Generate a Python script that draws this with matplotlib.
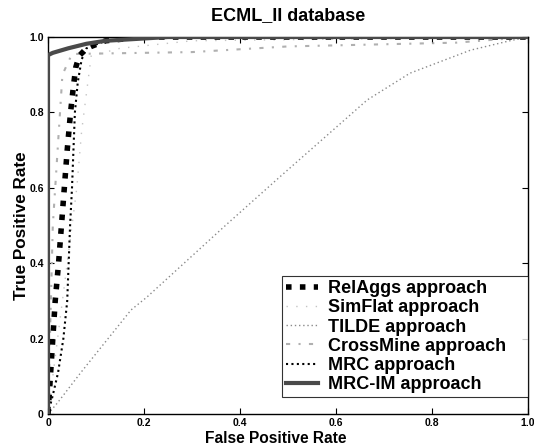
import numpy as np
import matplotlib
matplotlib.use("Agg")
import matplotlib.pyplot as plt

plt.rcParams["font.family"] = ["Liberation Sans", "DejaVu Sans"]
plt.rcParams["font.weight"] = "bold"

# ROC points (false positive rate, true positive rate) per approach
relaggs_fpr = [0.0, 0.005, 0.010, 0.015, 0.022, 0.028, 0.034, 0.040, 0.047, 0.053, 0.058, 0.065, 0.080, 0.120, 0.200, 1.0]
relaggs_tpr = [0.0, 0.10, 0.20, 0.30, 0.40, 0.50, 0.60, 0.70, 0.80, 0.87, 0.92, 0.95, 0.97, 0.99, 1.0, 1.0]

simflat_fpr = [0.0, 0.030, 0.050, 0.060, 0.070, 0.080, 0.085, 0.090, 0.150, 0.300, 1.0]
simflat_tpr = [0.0, 0.30, 0.50, 0.60, 0.75, 0.85, 0.90, 0.95, 0.97, 0.99, 1.0]

tilde_fpr = [0.0, 0.020, 0.069, 0.173, 0.206, 0.373, 0.483, 0.665, 0.754, 0.880, 0.962, 1.0]
tilde_tpr = [0.0, 0.030, 0.111, 0.276, 0.310, 0.504, 0.629, 0.833, 0.904, 0.965, 0.990, 1.0]

crossmine_fpr = [0.0, 0.010, 0.030, 0.050, 0.300, 0.500, 0.850, 1.0]
crossmine_tpr = [0.0, 0.50, 0.90, 0.955, 0.960, 0.975, 0.985, 1.0]

mrc_fpr = [0.0, 0.010, 0.021, 0.032, 0.040, 0.043, 0.046, 0.050, 0.053, 0.056, 0.062, 0.070, 0.080, 0.120, 0.250, 1.0]
mrc_tpr = [0.0, 0.05, 0.11, 0.20, 0.30, 0.40, 0.50, 0.60, 0.70, 0.80, 0.88, 0.94, 0.97, 0.99, 1.0, 1.0]

mrcim_fpr = [0.0, 0.0, 0.010, 0.042, 0.080, 0.120, 0.250, 1.0]
mrcim_tpr = [0.0, 0.952, 0.958, 0.970, 0.982, 0.990, 1.0, 1.0]

fig = plt.figure(figsize=(5.34, 4.48), dpi=100)
ax = fig.add_axes([0.0899, 0.0759, 0.8989, 0.8415])

ax.plot(relaggs_fpr, relaggs_tpr, color="black", lw=4.0, linestyle=(0, (1, 1.5)),
        label="RelAggs approach", zorder=4)
ax.plot(simflat_fpr, simflat_tpr, color="#c4c4c4", lw=1.0, linestyle=(0, (1, 6)),
        label="SimFlat approach", zorder=3)
ax.plot(tilde_fpr, tilde_tpr, color="#8a8a8a", lw=1.0, linestyle=(0, (1, 2)),
        label="TILDE approach", zorder=3)
ax.plot(crossmine_fpr, crossmine_tpr, color="#b0b0b0", lw=1.5, linestyle=(0, (2, 4, 1, 4)),
        label="CrossMine approach", zorder=3)
ax.plot(mrc_fpr, mrc_tpr, color="black", lw=1.5, linestyle=(0, (1, 1.6)),
        label="MRC approach", zorder=4)
ax.plot(mrcim_fpr, mrcim_tpr, color="#4a4a4a", lw=3.0, linestyle="-",
        label="MRC-IM approach", zorder=5)

ax.set_xlim(0, 1)
ax.set_ylim(0, 1)
ticks = [0, 0.2, 0.4, 0.6, 0.8, 1.0]
tick_labels = ["0", "0.2", "0.4", "0.6", "0.8", "1.0"]
ax.set_xticks(ticks)
ax.set_xticklabels(tick_labels)
ax.set_yticks(ticks)
ax.set_yticklabels(tick_labels)
ax.tick_params(direction="in", length=4, width=0.8, labelsize=7.5, top=True, right=True, pad=3)
for spine in ax.spines.values():
    spine.set_linewidth(1.0)

ax.set_title("ECML_II database", fontsize=13, fontweight="bold", pad=12)
ax.set_xlabel("False Positive Rate", fontsize=11.2, fontweight="bold")
ax.set_ylabel("True Positive Rate", fontsize=12.3, fontweight="bold")
ax.xaxis.set_label_coords(0.475, -0.045)
ax.yaxis.set_label_coords(-0.04, 0.5)

# legend box stretched to a fixed width in the lower right corner
leg = ax.legend(loc="lower left", bbox_to_anchor=(0.4875, 0.045, 0.5125, 0.32),
                mode="expand", borderaxespad=0, fontsize=13, frameon=True,
                fancybox=False, handlelength=1.8, handletextpad=0.5,
                labelspacing=0.12, borderpad=0.22)
leg.get_frame().set_edgecolor("black")
leg.get_frame().set_linewidth(0.8)
for t in leg.get_texts():
    t.set_fontweight("bold")

fig.savefig("out.png", dpi=100)
